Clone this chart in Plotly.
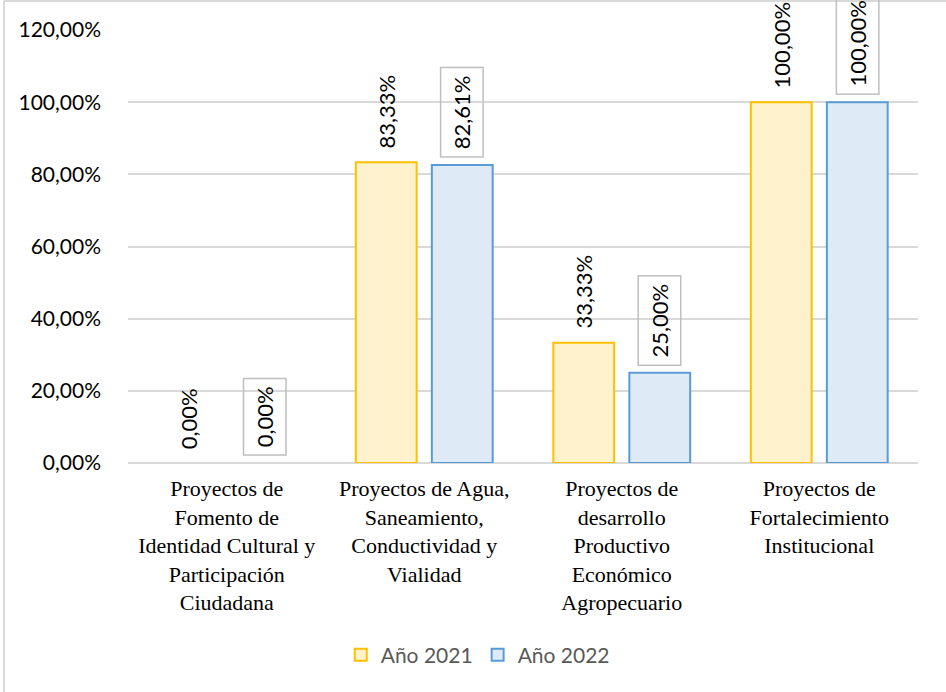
import plotly.graph_objects as go

categories = [
    "Proyectos de<br>Fomento de<br>Identidad Cultural y<br>Participación<br>Ciudadana",
    "Proyectos de Agua,<br>Saneamiento,<br>Conductividad y<br>Vialidad",
    "Proyectos de<br>desarrollo<br>Productivo<br>Económico<br>Agropecuario",
    "Proyectos de<br>Fortalecimiento<br>Institucional",
]
anio_2021 = [0.0, 0.8333, 0.3333, 1.0]
anio_2022 = [0.0, 0.8261, 0.25, 1.0]
labels_2021 = ["0,00%", "83,33%", "33,33%", "100,00%"]
labels_2022 = ["0,00%", "82,61%", "25,00%", "100,00%"]
y_ticks = [0, 0.2, 0.4, 0.6, 0.8, 1.0, 1.2]

W, H = 946, 692
L, R, T, B = 128, 28, 30, 229

fig = go.Figure()
fig.add_trace(go.Bar(
    x=categories, y=[v if v > 0 else None for v in anio_2021], name="Año 2021",
    marker=dict(color="#FFF2CC", line=dict(color="#FFC000", width=2)),
))
fig.add_trace(go.Bar(
    x=categories, y=[v if v > 0 else None for v in anio_2022], name="Año 2022",
    marker=dict(color="#DEEBF7", line=dict(color="#5B9BD5", width=2)),
))

bargap = 0.23
off = (1 - bargap) / 4
for i, (v, t) in enumerate(zip(anio_2021, labels_2021)):
    fig.add_annotation(x=i - off, y=v, xref="x", yref="y", text=t, textangle=-90,
                       showarrow=False, yanchor="bottom", yshift=12,
                       font=dict(family="Lato", size=22, color="#000000"))
for i, (v, t) in enumerate(zip(anio_2022, labels_2022)):
    fig.add_annotation(x=i + off, y=v, xref="x", yref="y", text=t, textangle=-90,
                       showarrow=False, yanchor="bottom", yshift=7,
                       bordercolor="#BFBFBF", borderwidth=1.5, borderpad=7,
                       bgcolor="rgba(255,255,255,0)",
                       font=dict(family="Lato", size=22, color="#000000"))

pw, ph = W - L - R, H - T - B
x_left = (4 - L) / pw
y_top = (H - B - 1) / ph
fig.add_shape(type="line", xref="paper", yref="paper", x0=x_left, x1=(W + 10 - L) / pw,
              y0=y_top, y1=y_top, line=dict(color="#D9D9D9", width=2), layer="below")
fig.add_shape(type="line", xref="paper", yref="paper", x0=x_left, x1=x_left,
              y0=y_top, y1=-(B + 10) / ph, line=dict(color="#D9D9D9", width=2), layer="below")

fig.update_layout(
    width=W, height=H,
    margin=dict(l=L, r=R, t=T, b=B),
    paper_bgcolor="white", plot_bgcolor="white",
    barmode="group", bargap=bargap, bargroupgap=0.2,
    separators=",.",
    showlegend=True,
    legend=dict(orientation="h", xref="container", yref="container",
                x=0.505, y=0.0535, xanchor="center", yanchor="middle",
                font=dict(family="Lato", size=21, color="#595959"),
                itemwidth=30, traceorder="normal"),
    xaxis=dict(tickfont=dict(family="Liberation Serif", size=22, color="#000000"),
               showline=False, ticks="", tickangle=0, ticklabelstandoff=10),
    yaxis=dict(range=[0, 1.2], tickvals=y_ticks, tickformat=".2%",
               tickfont=dict(family="Lato", size=21, color="#000000"),
               gridcolor="#D9D9D9", gridwidth=1.5, zeroline=True,
               zerolinecolor="#D9D9D9", zerolinewidth=1.5,
               ticklabelstandoff=26, showline=False),
)

fig.write_html("out.html", config={"displayModeBar": False},
               post_script="document.body.style.margin='0';document.body.style.padding='0';")
